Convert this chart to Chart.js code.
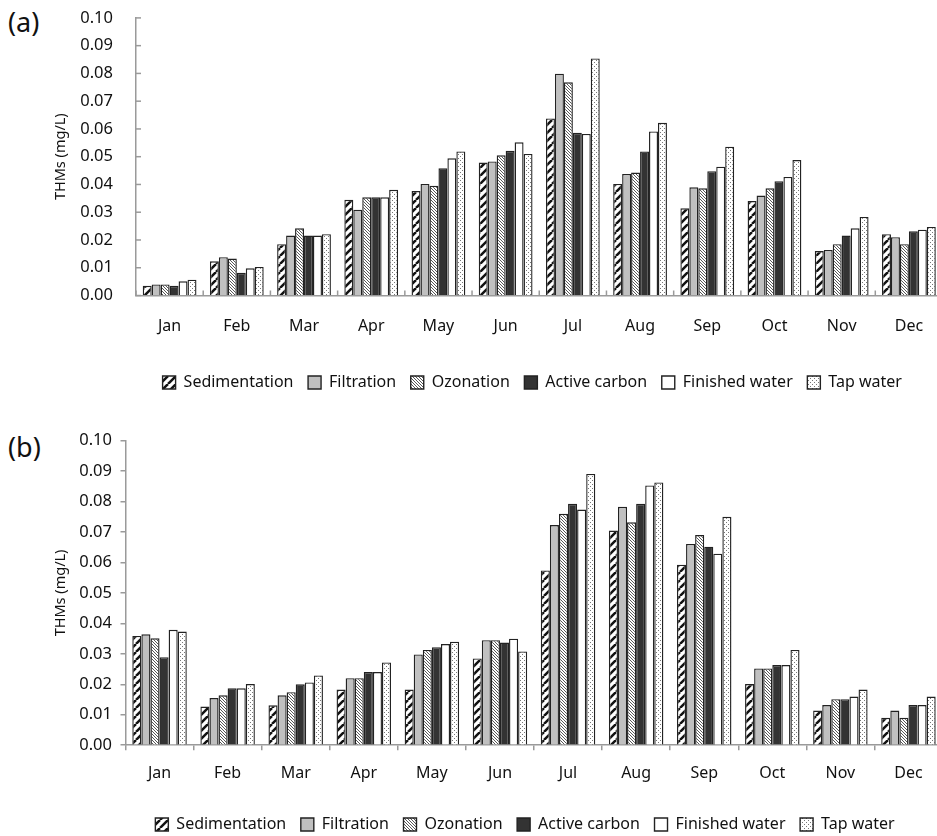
<!DOCTYPE html>
<html><head><meta charset="utf-8">
<script src="https://cdn.jsdelivr.net/npm/chart.js@4"></script>
<style>
body{margin:0;width:937px;height:836px;overflow:hidden;background:#fff;position:relative;font-family:'Noto Sans',sans-serif}
canvas{position:absolute;left:0}
.pl{position:absolute;left:8px;font-size:27px;color:#111;line-height:32px}
</style></head><body>
<div class="pl" style="top:6px">(a)</div>
<canvas id="ca" width="950" height="409" style="top:0"></canvas>
<div class="pl" style="top:431px">(b)</div>
<canvas id="cb" width="950" height="438" style="top:420px"></canvas>
<script>
const months = ['Jan','Feb','Mar','Apr','May','Jun','Jul','Aug','Sep','Oct','Nov','Dec'];
const seriesNames = ['Sedimentation','Filtration','Ozonation','Active carbon','Finished water','Tap water'];
const yTickValues = [0,0.01,0.02,0.03,0.04,0.05,0.06,0.07,0.08,0.09,0.10];
const yTickLabels = ['0.00','0.01','0.02','0.03','0.04','0.05','0.06','0.07','0.08','0.09','0.10'];
const yTitle = 'THMs (mg/L)';

// Panel (a)
const aSedimentation = [0.0035,0.0123,0.0185,0.0345,0.0376,0.0479,0.0638,0.0402,0.0314,0.0340,0.0160,0.0221];
const aFiltration    = [0.0040,0.0138,0.0216,0.0309,0.0402,0.0483,0.0799,0.0438,0.0390,0.0360,0.0164,0.0210];
const aOzonation     = [0.0040,0.0133,0.0242,0.0354,0.0395,0.0505,0.0768,0.0443,0.0386,0.0386,0.0185,0.0185];
const aActiveCarbon  = [0.0035,0.0082,0.0216,0.0354,0.0458,0.0521,0.0586,0.0519,0.0448,0.0412,0.0216,0.0231];
const aFinished      = [0.0051,0.0098,0.0216,0.0354,0.0494,0.0552,0.0582,0.0591,0.0464,0.0427,0.0242,0.0237];
const aTap           = [0.0057,0.0103,0.0221,0.0381,0.0519,0.0510,0.0854,0.0622,0.0536,0.0488,0.0283,0.0247];

// Panel (b)
const bSedimentation = [0.0359,0.0127,0.0131,0.0183,0.0183,0.0285,0.0574,0.0705,0.0593,0.0201,0.0114,0.0090];
const bFiltration    = [0.0364,0.0155,0.0164,0.0220,0.0298,0.0345,0.0723,0.0783,0.0661,0.0252,0.0132,0.0114];
const bOzonation     = [0.0351,0.0164,0.0174,0.0220,0.0313,0.0345,0.0760,0.0732,0.0690,0.0252,0.0151,0.0090];
const bActiveCarbon  = [0.0289,0.0187,0.0200,0.0240,0.0322,0.0337,0.0793,0.0793,0.0652,0.0263,0.0151,0.0132];
const bFinished      = [0.0379,0.0187,0.0206,0.0240,0.0332,0.0350,0.0774,0.0853,0.0629,0.0263,0.0160,0.0132];
const bTap           = [0.0373,0.0201,0.0229,0.0272,0.0340,0.0308,0.0891,0.0863,0.0750,0.0313,0.0183,0.0160];

const FONT = "'Noto Sans', sans-serif";
const AXIS = '#9a9a9a';
const CLEAR = 'rgba(0,0,0,0)';

function makePattern(size, draw){
  const c = document.createElement('canvas');
  c.width = size; c.height = size;
  const g = c.getContext('2d');
  draw(g, size);
  return g.createPattern(c, 'repeat');
}
const pSed = makePattern(8, (g,s)=>{
  g.fillStyle='#fff'; g.fillRect(0,0,s,s);
  g.strokeStyle='#111'; g.lineWidth=2.5;
  for(let k=-1;k<=1;k++){ g.beginPath(); g.moveTo(k*s, s); g.lineTo(k*s+s, 0); g.stroke(); }
});
const pOzo = makePattern(3, (g,s)=>{
  g.fillStyle='#fff'; g.fillRect(0,0,s,s);
  g.strokeStyle='#444'; g.lineWidth=0.9;
  for(let k=-1;k<=1;k++){ g.beginPath(); g.moveTo(k*s, 0); g.lineTo(k*s+s, s); g.stroke(); }
});
const pTap = makePattern(4, (g,s)=>{
  g.fillStyle='#fff'; g.fillRect(0,0,s,s);
  g.fillStyle='#777'; g.fillRect(0,0,1,1); g.fillRect(2,2,1,1);
});
const fills = [pSed, '#c0c0c0', pOzo, '#333333', '#ffffff', pTap];

function datasets(arrs){
  return arrs.map((d,i)=>({
    label: seriesNames[i], data: d, backgroundColor: fills[i],
    borderColor: '#222', borderWidth: 1.4,
    categoryPercentage: 0.8, barPercentage: 1.0
  }));
}

const innerTicks = {
  id: 'innerTicks',
  afterDraw(chart){
    const {ctx, scales:{x, y}} = chart;
    ctx.save();
    ctx.strokeStyle = AXIS; ctx.lineWidth = 1.5;
    y.ticks.forEach((t,i)=>{
      const py = y.getPixelForTick(i);
      ctx.beginPath(); ctx.moveTo(y.right, py); ctx.lineTo(y.right+5, py); ctx.stroke();
    });
    for(let i=0;i<=x.ticks.length;i++){
      const px = x.getPixelForValue(i-0.5);
      ctx.beginPath(); ctx.moveTo(px, x.top); ctx.lineTo(px, x.top-5); ctx.stroke();
    }
    ctx.restore();
  }
};

function legendShift(dx){
  return { id: 'legendShift', afterLayout(chart){
    const l = chart.legend; if(!l) return;
    l.left += dx; l.right += dx;
  } };
}

function build(id, arrs, cfg){
  const gridOut = { display: true, drawOnChartArea: false, drawTicks: true, tickLength: 5, color: AXIS, lineWidth: 1.5 };
  const plugins = [legendShift(cfg.shift)];
  if (cfg.inner) plugins.push(innerTicks);
  return new Chart(document.getElementById(id), {
    type: 'bar',
    data: { labels: months, datasets: datasets(arrs) },
    plugins,
    options: {
      responsive: false, animation: false, devicePixelRatio: 1,
      layout: { padding: { top: cfg.top, right: 7.5, left: 0, bottom: cfg.bottom } },
      plugins: {
        tooltip: { enabled: false },
        legend: {
          position: 'bottom', fullSize: false,
          labels: { boxWidth: 13, boxHeight: 13, padding: 14.6, color: '#111', font: { family: FONT, size: 16 } }
        }
      },
      scales: {
        x: {
          grid: cfg.inner ? { display: false, drawTicks: false } : gridOut,
          border: { display: true, color: AXIS, width: 1.5 },
          ticks: { color: '#111', padding: cfg.xpad, font: { family: FONT, size: 16 }, maxRotation: 0 },
          afterFit: s => { s.height = cfg.xh; }
        },
        y: {
          min: 0, max: 0.1,
          afterBuildTicks: s => { s.ticks = yTickValues.map(v => ({ value: v })); },
          grid: cfg.inner ? { display: true, drawOnChartArea: false, drawTicks: true, tickLength: 15, color: CLEAR } : gridOut,
          border: { display: true, color: AXIS, width: 1.5 },
          ticks: { color: '#111', padding: cfg.ypad, font: { family: FONT, size: 16.5 },
                   callback: (v, i) => yTickLabels[i] },
          title: { display: true, text: yTitle, color: '#111', font: { family: FONT, size: 14.5 }, padding: { top: 52, bottom: 0 } },
          afterFit: s => { s.width = cfg.yw; }
        }
      }
    }
  });
}

build('ca', [aSedimentation,aFiltration,aOzonation,aActiveCarbon,aFinished,aTap],
  { inner: true, top: 16.7, bottom: 8.5, xh: 64.4, xpad: 21.5, ypad: 8, yw: 136, shift: -7 });
build('cb', [bSedimentation,bFiltration,bOzonation,bActiveCarbon,bFinished,bTap],
  { inner: false, top: 20.7, bottom: 15.5, xh: 56.7, xpad: 14, ypad: 8.5, yw: 125.5, shift: -9 });
</script>
</body></html>
